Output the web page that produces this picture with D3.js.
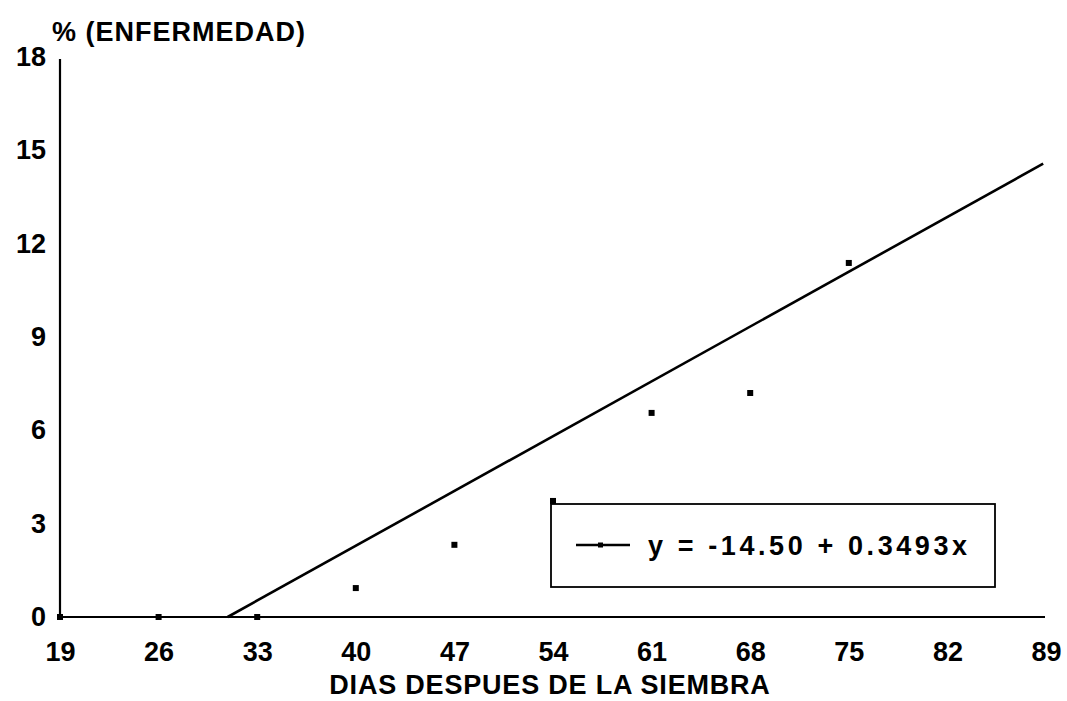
<!DOCTYPE html>
<html>
<head>
<meta charset="utf-8">
<script src="https://cdn.jsdelivr.net/npm/d3@7"></script>
<style>
  html, body { margin: 0; padding: 0; background: #fff; }
  svg text { font-family: "Liberation Sans", Arial, Helvetica, sans-serif; font-weight: bold; fill: #000; }
</style>
</head>
<body>
<svg id="chart" width="1067" height="701"></svg>
<script>
// Data
const xTicks = [19, 26, 33, 40, 47, 54, 61, 68, 75, 82, 89];
const yTicks = [0, 3, 6, 9, 12, 15, 18];
const days = [19, 26, 33, 40, 47, 54, 61, 68, 75];
const disease = [0, 0, 0, 0.93, 2.32, 3.73, 6.56, 7.2, 11.38];
const fitX = [30.9, 88.8];
const fitY = [0, 14.57];
const legendLabel = "y = -14.50 + 0.3493x";
const yTitle = "% (ENFERMEDAD)";
const xTitle = "DIAS DESPUES DE LA SIEMBRA";

const svg = d3.select("#chart");
const x = d3.scaleLinear().domain([19, 89]).range([60, 1046]);
const y = d3.scaleLinear().domain([0, 18]).range([617, 57]);

// axes lines
svg.append("line").attr("x1", x(19)).attr("x2", x(89) - 1).attr("y1", y(0)).attr("y2", y(0))
  .attr("stroke", "#000").attr("stroke-width", 2.2);
svg.append("line").attr("x1", x(19)).attr("x2", x(19)).attr("y1", y(0)).attr("y2", y(18) + 2)
  .attr("stroke", "#000").attr("stroke-width", 2.2);

// x tick labels
const xAxis = d3.axisBottom(x).tickValues(xTicks).tickSize(0).tickPadding(25);
const gx = svg.append("g").attr("transform", `translate(0,${y(0)})`).call(xAxis);
gx.select(".domain").remove();
gx.selectAll("text").attr("font-size", 27).attr("font-family", null);

// y tick labels
const yAxis = d3.axisLeft(y).tickValues(yTicks).tickSize(0).tickPadding(14);
const gy = svg.append("g").attr("transform", `translate(${x(19)},0)`).call(yAxis);
gy.select(".domain").remove();
gy.selectAll("text").attr("font-size", 27).attr("font-family", null);

// titles
svg.append("text").attr("x", 52).attr("y", 41).attr("font-size", 27).attr("letter-spacing", 1).text(yTitle);
svg.append("text").attr("x", 550).attr("y", 694).attr("text-anchor", "middle").attr("font-size", 27)
  .attr("letter-spacing", 0.8).text(xTitle);

// fit line
svg.append("line")
  .attr("x1", x(fitX[0])).attr("y1", y(fitY[0]))
  .attr("x2", x(fitX[1])).attr("y2", y(fitY[1]))
  .attr("stroke", "#000").attr("stroke-width", 2.6);

// points
svg.selectAll("rect.pt").data(days.map((d, i) => [d, disease[i]])).enter()
  .append("rect").attr("class", "pt")
  .attr("x", d => x(d[0]) - 3).attr("y", d => y(d[1]) - 3)
  .attr("width", 6).attr("height", 6).attr("fill", "#000");

// legend
const lg = svg.append("g");
lg.append("rect").attr("x", 551).attr("y", 504).attr("width", 444).attr("height", 83)
  .attr("fill", "none").attr("stroke", "#000").attr("stroke-width", 1.8);
lg.append("line").attr("x1", 576).attr("x2", 630).attr("y1", 545).attr("y2", 545)
  .attr("stroke", "#000").attr("stroke-width", 2.4);
lg.append("rect").attr("x", 598).attr("y", 542.5).attr("width", 5).attr("height", 5).attr("fill", "#000");
lg.append("text").attr("x", 648).attr("y", 555).attr("font-size", 27).attr("letter-spacing", 3.6).text(legendLabel);
</script>
</body>
</html>
